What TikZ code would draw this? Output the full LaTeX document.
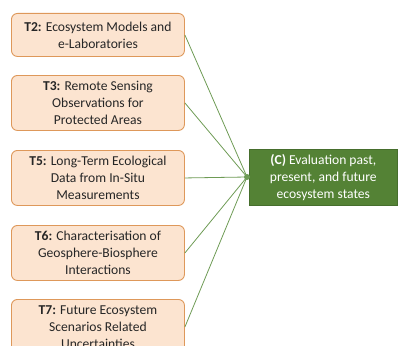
\documentclass[tikz,border=0pt]{standalone}
\usepackage{fontspec}
\setmainfont{Carlito}
\definecolor{boxfill}{RGB}{252,228,208}
\definecolor{boxdraw}{RGB}{222,152,90}
\definecolor{gfill}{RGB}{84,130,53}
\definecolor{gdraw}{RGB}{70,110,45}
\definecolor{lcol}{RGB}{110,155,85}
\begin{document}
\begin{tikzpicture}[x=1pt,y=-1pt,
  tbox/.style={draw=boxdraw,fill=boxfill,line width=0.9pt,rounded corners=6pt,
    minimum width=173pt,anchor=north west,align=center,inner sep=0pt,
    font=\fontsize{13.6}{17}\selectfont,text=black!85},
  gbox/.style={draw=gdraw,fill=gfill,line width=0.6pt,minimum width=148pt,minimum height=56pt,
    anchor=north west,align=center,inner sep=0pt,font=\fontsize{13.6}{17}\selectfont,text=white},
  conn/.style={draw=lcol,line width=0.8pt}]
\useasboundingbox (0,0) rectangle (398,345);
\clip (0,0) rectangle (398,345);
\node[tbox,minimum height=43pt] (t2) at (11,13) {\textbf{T2:} Ecosystem Models and\\e-Laboratories};
\node[tbox,minimum height=55pt] (t3) at (11,75) {\textbf{T3:} Remote Sensing\\Observations for\\Protected Areas};
\node[tbox,minimum height=55pt] (t5) at (11,150) {\textbf{T5:} Long-Term Ecological\\Data from In-Situ\\Measurements};
\node[tbox,minimum height=55pt] (t6) at (11,225) {\textbf{T6:} Characterisation of\\Geosphere-Biosphere\\Interactions};
\node[tbox,minimum height=55pt] (t7) at (11,299) {\textbf{T7:} Future Ecosystem\\Scenarios Related\\Uncertainties};
\node[gbox] (c) at (249,149) {\textbf{(C)} Evaluation past,\\present, and future\\ecosystem states};
\coordinate (hub) at (247,177);
\foreach \n in {t2,t3,t5,t6,t7} \draw[conn] (\n.east) -- (hub);
\fill[lcol] (hub) circle (3pt);
\end{tikzpicture}
\end{document}
